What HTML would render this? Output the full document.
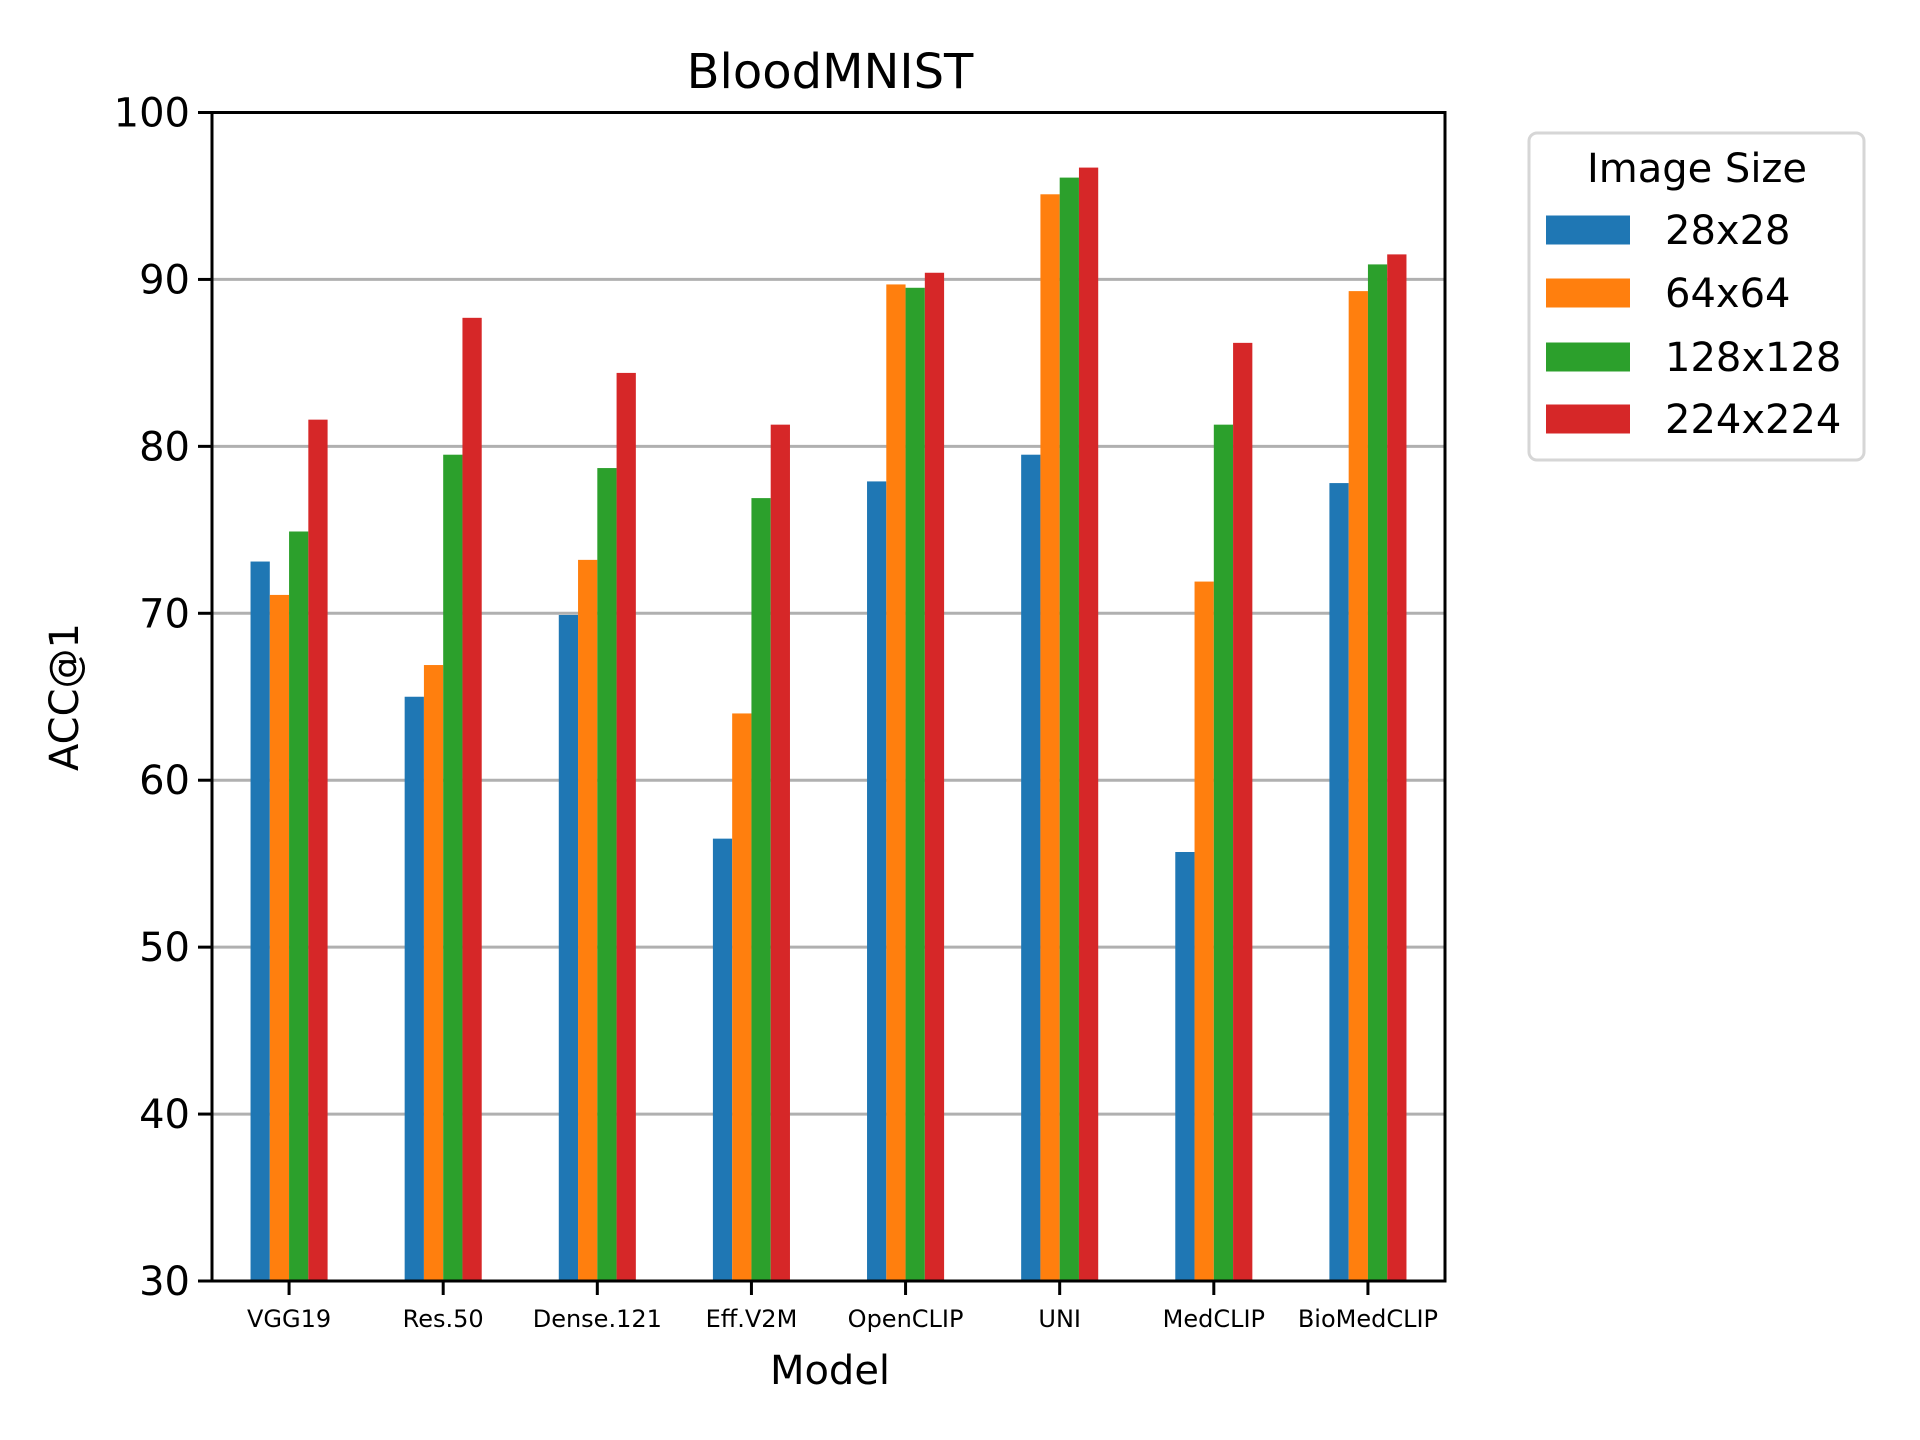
<!DOCTYPE html>
<html><head><meta charset="utf-8"><style>
html,body{margin:0;padding:0;background:#fff;}
svg{display:block;font-family:"DejaVu Sans","Liberation Sans",sans-serif;}
</style></head><body>
<svg id="chart" width="1920" height="1440" viewBox="0 0 1920 1440" xmlns="http://www.w3.org/2000/svg">
<rect width="1920" height="1440" fill="#fff"/>
<g id="grid"></g>
<g id="bars"></g>
<g id="axes"></g>
<text x="830" y="88" font-size="48" text-anchor="middle">BloodMNIST</text>
<text x="830" y="1384" font-size="40" text-anchor="middle">Model</text>
<text transform="translate(78,697) rotate(-90)" font-size="40" text-anchor="middle">ACC@1</text>
<g>
<rect x="1529" y="133" width="335" height="327" rx="8" fill="#fff" stroke="#d6d6d6" stroke-width="3"/>
<text x="1697" y="182" font-size="40" text-anchor="middle">Image Size</text>
<g id="legend-items"></g>
</g>
</svg>
<script>
const categories = ["VGG19","Res.50","Dense.121","Eff.V2M","OpenCLIP","UNI","MedCLIP","BioMedCLIP"];
const seriesNames = ["28x28","64x64","128x128","224x224"];
const s28 = [73.1,65.0,69.9,56.5,77.9,79.5,55.7,77.8];
const s64 = [71.1,66.9,73.2,64.0,89.7,95.1,71.9,89.3];
const s128 = [74.9,79.5,78.7,76.9,89.5,96.1,81.3,90.9];
const s224 = [81.6,87.7,84.4,81.3,90.4,96.7,86.2,91.5];
const yTicks = [30,40,50,60,70,80,90,100];

const NS="http://www.w3.org/2000/svg";
const colors=["#1f77b4","#ff7f0e","#2ca02c","#d62728"];
const series=[s28,s64,s128,s224];
const L=212,R=1445,T=112.5,B=1281;
const yMin=30,yMax=100;
const step=(R-L)/categories.length;
function xPos(i){return L+step*(i+0.5);}
function yPos(v){return B-(v-yMin)/(yMax-yMin)*(B-T);}
function mk(tag,attrs,parent){const e=document.createElementNS(NS,tag);for(const k in attrs)e.setAttribute(k,attrs[k]);parent.appendChild(e);return e;}
const grid=document.getElementById('grid'),bars=document.getElementById('bars'),axes=document.getElementById('axes');
yTicks.forEach(t=>{
  const y=yPos(t);
  const g=mk('line',{x1:L,x2:R,y1:y,y2:y,stroke:'#b0b0b0','stroke-width':3},grid);
  
  
  const tk=mk('line',{x1:L-14,x2:L,y1:y,y2:y,stroke:'#000','stroke-width':3},axes);
  
  
  const tx=mk('text',{x:L-22,y:y+14,'font-size':40,'text-anchor':'end'},axes);
  tx.textContent=t;
  
  
});
const bw=step*0.125;
series.forEach((s,si)=>{
  s.forEach((v,i)=>{
    const x=xPos(i)+(si-2)*bw;
    const y=yPos(v);
    const r=mk('rect',{x:x,y:y,width:bw,height:B-y,fill:colors[si]},bars);
    
    
  });
});
categories.forEach((c,i)=>{
  const x=xPos(i);
  const tk=mk('line',{x1:x,x2:x,y1:B,y2:B+14,stroke:'#000','stroke-width':3},axes);
  
  
  const tx=mk('text',{x:x,y:1327,'font-size':24,'text-anchor':'middle'},axes);
  tx.textContent=c;
  
  
});
const frame=mk('rect',{x:L,y:T,width:R-L,height:B-T,fill:'none',stroke:'#000','stroke-width':3},axes);


const li=document.getElementById('legend-items');
const ly=[230,293,357,419];
seriesNames.forEach((n,i)=>{
  const r=mk('rect',{x:1546,y:ly[i]-14.5,width:84,height:29,fill:colors[i]},li);
  
  
  const t=mk('text',{x:1665,y:ly[i]+14,'font-size':40},li);
  t.textContent=n;
  
  
});
</script>
</body></html>
